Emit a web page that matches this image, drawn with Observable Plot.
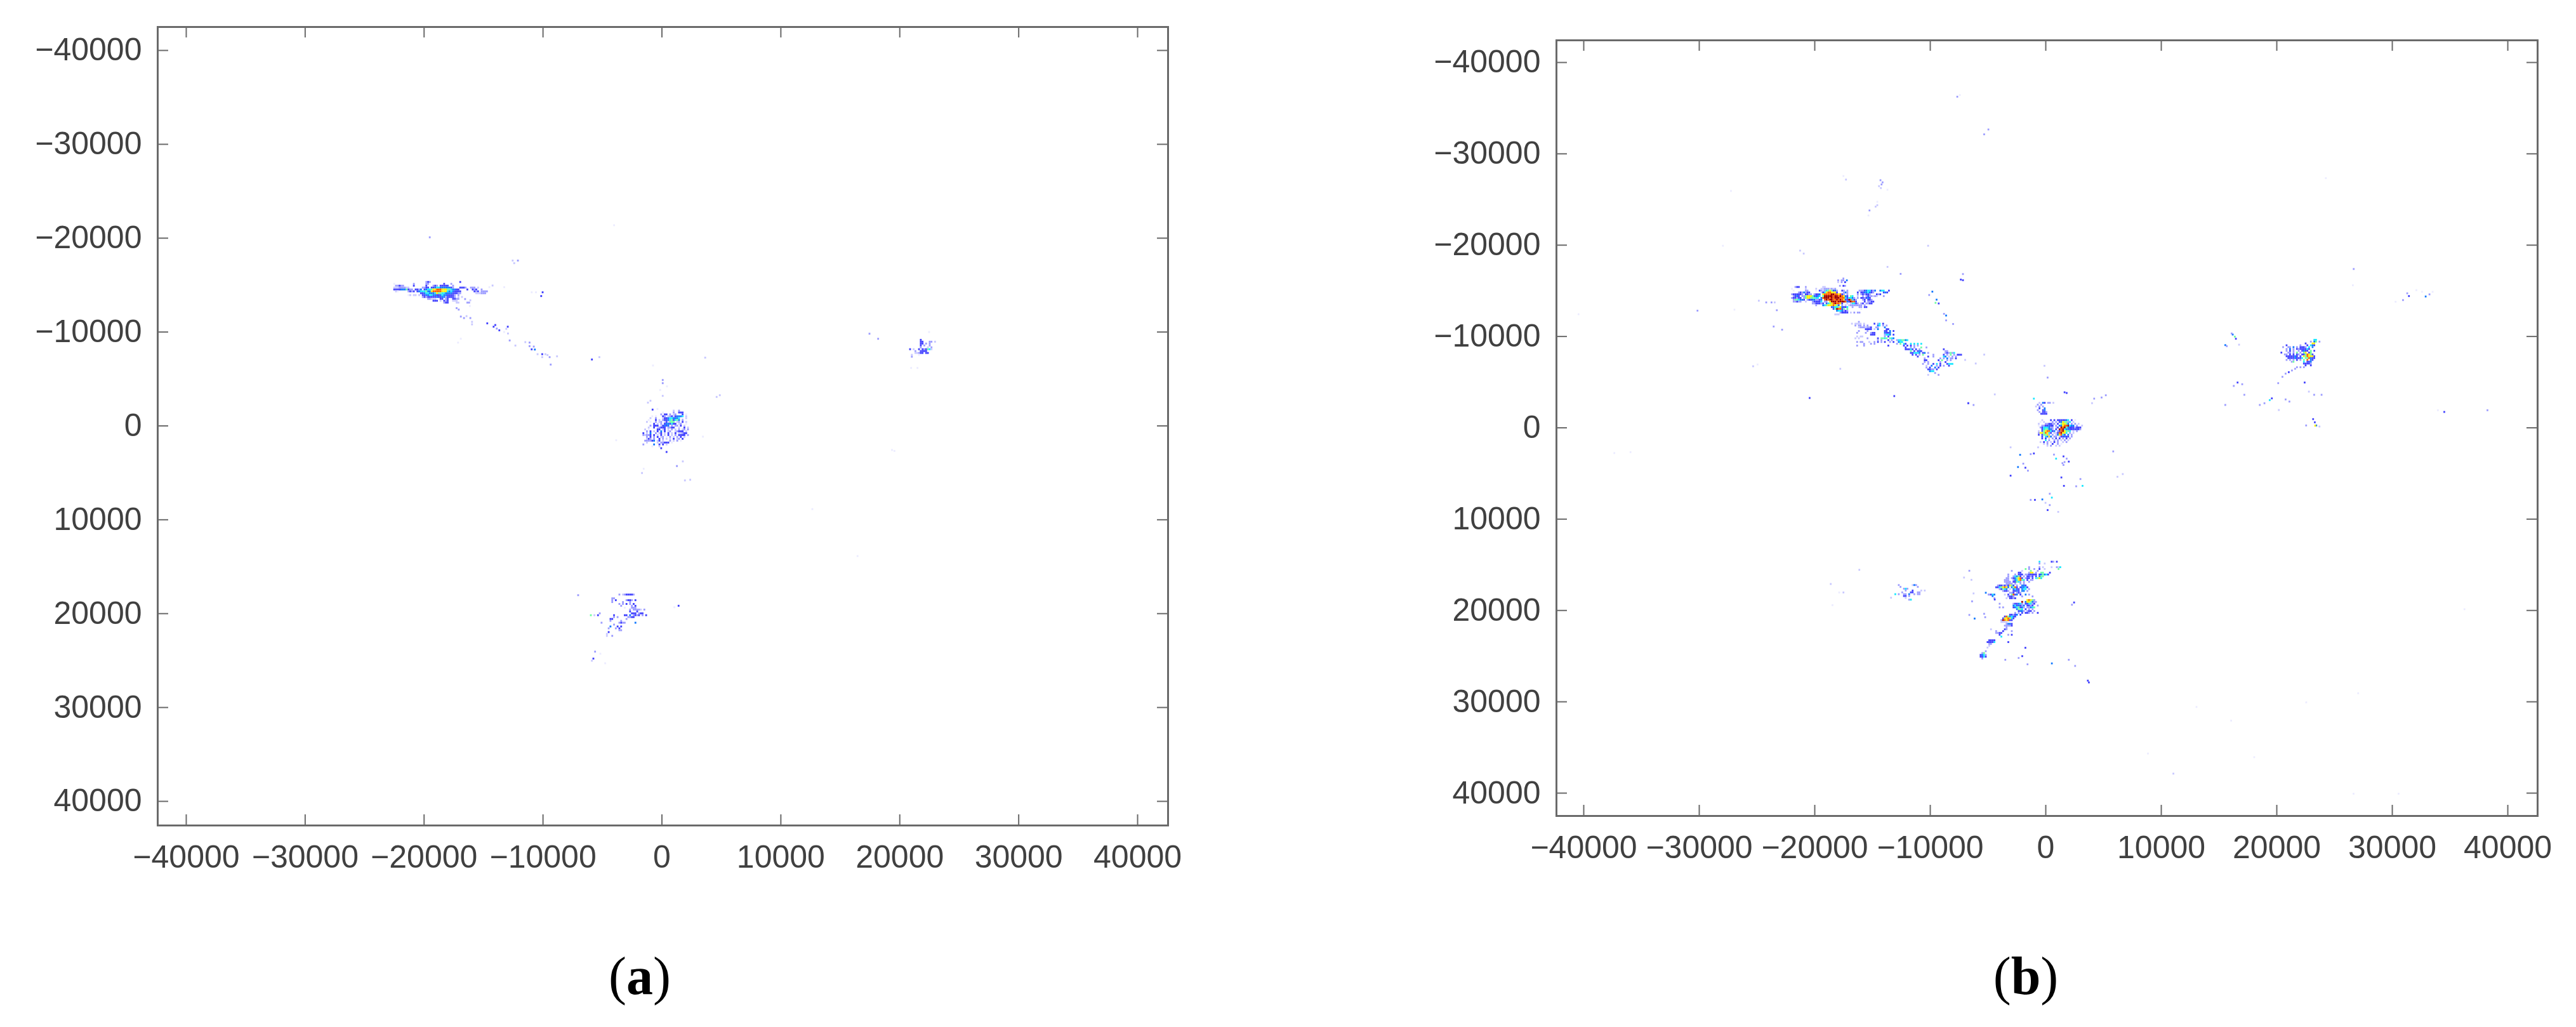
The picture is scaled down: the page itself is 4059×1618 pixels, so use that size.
<!DOCTYPE html>
<html>
<head>
<meta charset="utf-8">
<script src="https://cdn.jsdelivr.net/npm/d3@7"></script>
<script src="https://cdn.jsdelivr.net/npm/@observablehq/plot@0.6"></script>
<style>
html,body{margin:0;padding:0;background:#fff;}
#page{position:relative;width:4059px;height:1618px;background:#fff;overflow:hidden;}
.panel{position:absolute;top:0;}
.cap{position:absolute;top:1488px;font-family:"Liberation Serif",serif;font-size:84px;line-height:100px;color:#000;transform:translateX(-50%);}
.cap b{font-weight:bold;}
svg g[aria-label="rect"]{filter:blur(0.6px);}
</style>
</head>
<body>
<div id="page"></div>
<script>
// Axis ticks shared by both histograms
const tickValues = [-40000,-30000,-20000,-10000,0,10000,20000,30000,40000];
const binX = 150, binY = 200;
// Density levels: 1 faintest … 10 darkest red
const levelColors = ["#ececff","#c8c8ff","#9c9cff","#4040ff","#1078ff","#18e8ff","#70ffa0","#ffef00","#ff6000","#a00000"];

// ----- Panel (a): rows of density levels (x0, y0 in data units)
const aWestOrigin = [-22560,-15400];
const aWestRows = [
"..................343................4",
"1..........3......33........4...3",
".33433.....4......4...343.44444..3",
"222333322.......3344.4456655555543...4443..333.2",
"44445557433.4435.45667889998887765544....4..434..3",
".21.....3434.4566675589999988865654444.......434.3333",
"...............44566555687766555544433........222333",
"........12.22.2.4455665544565544443.3",
"................3434444454455344443.2.2",
"...................33222..44.34..4433",
"......................444.2.434..222",
"............................344....22....33"];
const aCentreOrigin = [-1759,-1690];
const aCentreRows = [
"..................2..3",
"............1.....3..444",
"...........3.44.3.23...4.1",
"......1.1...43.234245556.2",
".....2..3...2445665556.1.2",
"....1...4.2.3445674675.3",
"...2.1..3.23.242777.23.4.2",
".......4.2.3.4554644.23..1",
".....3.444.24545.3.33.4.2.",
"....2..4.23444.3344..2..4.2",
"..2.1....44.24.2.3.2.3.23.3",
"...3.4.2.4.5.4.23..23444.2",
".4.2.5..3.24.2.4.2.4.22344",
".32334.4.2.4.2.4.2.3.4444.3",
"...3.4.3.4.23.1.3.2.3.4.2",
"...243.3..4.3.2.2.4.23.4",
"..333345.24.2...3.2.3.1",
"...2.....2.33444.1",
".3.....5..4.4.2",
"......1...2.....",
"...........4",
"",
"..............4"];
const aSouthOrigin = [-6026,17903];
const aSouthRows = [
"................3.2344443",
"",
"............33",
"............3.4.....3443.4",
"............3.....3...3",
"................3.3.4.3.4",
".................3.....3.4",
"...................1...333",
"......................3.33332.3",
"......................4...4",
".....3.................444.344",
"7.2.4........4.....44.5.3434.3.4",
".............3.3.....3344",
"...........44.......3",
"...........3.....3",
"......3.........3433.....5",
".............3",
"...........5...4.4",
"..........3...3.4",
"................33",
"..........4.....",
".........2.......",
".........2..3"];
const aNorthEastOrigin = [20818,-9235];
const aNorthEastRows = [
"......4",
"......44...33.2",
"......44.3.3",
"......4.3..3",
"......3...2.3",
"4.2..4.434762",
"...3..4444",
"...22344.44",
".2...1",
".3"];
// single cells (x, y, level) in data units
const aScatterX = [-17314,-17136,-16958,-16692,-16478,-16158,-16016,-16016,-14736,-14203,-14060,-13936,-13722,-13011,-13136,-13314,-12993,-12851,-12371,-11535,-11180,-11180,-10824,-11002,-10735,-10504,-10113,-9847,-9669,-9491,-10113,-8869,-5935,-9402,-19572,-4070,-12600,-12160,-12470,-10080,-10200,-10640,-11000,-14290,-13310,-14560,-16600,-16160,-16200,-16960,-17190,-5310,
 -5670,-5813,-5937,-5226,-4817,1353,997,-7093,19,19,375,-194,19,-1225,-1012,-834,-425,4820,4553,3397,1708,1210,-1581,-1723,1886,2331,-3892,
 22418,17404,18133,20907,21440,3590,19300,19500,16400,12600,-800];
const aScatterY = [-12614,-12457,-11713,-11556,-11758,-11556,-11150,-10880,-10993,-10632,-10813,-10430,-10250,-10632,-10407,-10070,-9912,-9169,-8628,-8989,-8943,-8561,-8516,-8223,-8200,-7705,-7705,-7705,-7615,-7390,-7390,-7480,-7142,-6601,-20158,-21444,-17680,-17680,-17400,-14300,-13900,-14300,-14300,-15020,-14850,-14850,-13580,-13450,-12840,-9350,-8940,-7390,
 23983,24726,24951,24208,25222,19097,19254,17970,-4955,-4617,-4279,-3897,-3266,-2545,-2748,-1802,-1870,-3334,-3153,1080,3715,4211,4503,4954,5742,5674,1463,
 -10068,-9888,-9347,-6240,-6240,-7340,2500,2600,13800,8800,-6500];
const aScatterV = [3,3,3,3,2,3,2,2,4,4,4,3,4,4,2,1,2,3,2,2,3,3,3,4,5,2,4,2,2,3,2,2,4,3,3,1,2,3,2,4,4,1,1,2,1,1,3,2,1,1,1,2,
 3,4,2,1,1,4,1,3,3,3,1,1,2,2,2,4,1,2,2,1,2,3,1,2,2,2,1,
 1,3,3,1,1,2,1,1,1,1,1];

// ----- Panel (b)
const bWestOrigin = [-22324,-15485];
const bWestRows = [
"....344...3.........22",
"..1.......2.....2..223332323",
"...1......33....1.43236787453..43.3......3334566435..566..4",
"......3435344......2468998884...353.....4.44556543.....454",
"..3444443.4433.3445.89999AA998943.3.....3.343443...434",
"...3454.33788875456.7AAAAA9AA9A9854.76..2..3.3433232...3",
"..344344.378877766.59AAA9A9AAA999646653.3.443454",
"...3776554.344553345.9A9AA99A9A9844A9643...34.443",
"...33433..2...344446.33.8AAA9AAAA954A994....4.3344",
"..............3344434.46789A9984..2.26643.34.3344",
"................3...5678889874.3.2.23333333.3",
".........................4566785446..3...33.44",
"..........................47A9947.7.......1",
"............................5665343",
"..............................34444.2.3.33",
"...........................222"];
const bSpurOrigin = [-18019,-16412];
const bSpurRows = ["...3","3.33.5","2.3.4","..",".3.43"];
const bStreakOrigin = [-16828,-11665];
const bStreakRows = [
"....3",
"2.2222.2.....4.36.4",
"..3.33.3.3.....56.3.3",
"....23332334..33...5",
"........4444.2.5....44",
"....3....3.........44.5.4",
"...3....3..344.....5445",
"...........444.....3665.4",
"...2.22............3.4",
"..2.2....3.....4.7767.765",
"...............3.3...4.3..3667756",
"...3.33...2..3.4.3.4..3.4..566",
".......3...3.3............3.7.64..6.6.6.6",
"...3...3.............4........4.4.4.3.3",
"...............................4..3.3...7..3",
"...............................44464.4.3.............4",
"..................................7.4.454.............33",
"..................................446665.45.3.........343736",
"...................................4.4.3.7.....3.....4.3.7.3.444",
"......................................4.....4..3.....65.2.3.3",
"..........................................3........3.3.5.33.4",
"..........................................44......4.7..3.3",
"..........................................3.3......3..4",
".........................................3..3..4.6.4...4666",
"...........................................2..5..3.4.3..4",
"...........................................3.4..5.4",
"............................................4433.4",
".............................................566",
"................................................3",
"............................................2.....3"];
const bCentreOrigin = [-803,-903];
const bCentreRows = [
"...2....4.4.4444456.4.1",
"..1.2....3.3.4587736.2",
".2...334433.4.78875.3.3.2",
".1.3344544.3.55899A655.3..2",
"..34666533.24.A9A754443444",
"...4677553.4.A9A6554444443",
".2.47899645.349A8776.2.3",
".38879864.2249A886.3.2",
".4.47783.3.258964.5.3",
"...4.6585.33.244544.3",
"...4.4.2.3.4.4.3.4.3",
".....6.3..3.3.2.3.2",
"..2.4.3.2.4.3..2.3",
"....2.3..4..3.1",
"......2.3..2.2"];
const bCentreSpurOrigin = [-891,-2800];
const bCentreSpurRows = [
"..2.54.33.2",
".3.3....",
"2.3.3",
"..4..5",
".3..45",
"..3.443",
"...4444"];
const bSouthOrigin = [-5841,14597];
const bSouthRows = [
"...................................6......43.4",
"...................................3..2",
"",
".............................3.....3.2....2..326",
"...........................7.3..3..4..2.......7",
"...................3.....2....7...3",
".......................44....388.3..77...4",
".................3...3.444.3344444.457564",
".................3..36574.3.4434.4.577",
"................33.3457894.344.4.6786",
"...............333..3568976.4.33",
"...............3333.44763.3..3",
"................3333.3..3.3",
"...........3443434874.3..554",
"..........44678985.5794.45564",
"............34765.2.5644.566.3",
"..............3443..4454.55.3",
"....5.............334.343",
"......3465.....2.4.7945.4..5.3",
".................3443....3.....3",
".........3......2.4434",
"............................89873",
".........................A.5887533",
"............3.......344563.446634",
"....................5645435.4434..3",
"............3.3.....4567453.33567",
"......................5776.4.3.3",
".......................4553.344.3",
".....................3.3.4.443.3..4",
"..................44345.4",
"...............4975654",
"..............4889864",
".............3A98944",
".............2222",
"................3554",
"...............33334",
"................3",
".......2.......43",
"..........3...4....3",
"..........3344",
"............4....3.4",
".............6",
"",
"......4444",
".....44446.......4",
"......33",
"......2",
".....2",
"",
"....3",
"..37",
".4563",
".4464",
"..3"];
const bFarSouthWestOrigin = [-13075,17153];
const bFarSouthWestRows = [
"..3.......253",
"...3.........3",
".....363",
"......3...4....2.2",
"....3....44..33",
"6.3..33.5..3.33",
".....44.3",
"......2",
"........36"];
const bEastOrigin = [20350,-9700];
const bEastRows = [
"...................66",
".................3.57.3",
"..............4...88",
"...4.......3...4.654",
".3..33.5.3.4443.6.5",
"...3.5.3.43444464",
"...3.4.3..3.4544.7.4",
"4...33.3.7.3.78.47",
"..33.4.4.43.4479874",
"...4444454.4.8798884",
"....444454446.779544",
"...3.3.3.4.3.7.9.54",
"......37.....6.445",
".............44443",
"..............4..4",
".........3.3.3"];
const bScatterX = [
 -30200,-24889,-24248,-23790,-23515,-23331,-23606,-22874,-21316,-21005,-7401,-7218,-7218,-10233,-9866,-10141,-9500,-9592,-9317,-8859,-8675,-8675,-8071,-17836,-20492,-13164,-4462,-6752,-25383,-12614,-13750,-6112,-7028,-5377,
 16136,16319,16044,16411,15495,15623,16686,19525,19342,18884,18481,20716,21046,23244,23372,23281,23098,23647,22493,23830,22365,16557,16228,16960,15495,17144,20075,20441,20716,20991,21266,21540,20130,23189,22731,
 -1078,-6757,-6299,-3093,-3093,-2269,-2452,-1811,-1591,-1994,-1353,-1078,662,846,1487,1762,1945,1395,1579,1487,1304,1524,2586,3136,2953,-345,-1353,-986,479,-70,296,113,1029,296,113,-162,1579,1762,4785,4143,5151,3960,6617,6158,5792,-711,
 -6665,-7123,-6482,-6299,-6427,-4997,-4650,-4467,-6207,-6665,-5291,-5383,2403,2220,-1811,-2085,-2397,-3551,-1628,479,1945,2495,3594,3686,
 -16190,-18663,-17930,-17564,-18516,-13442,
 -7708,-7488,-5015,-5381,-14358,-14175,-14266,-14486,-14321,-13753,-14633,-14633,-14779,-15310,-15402,-17344,-17564,
 31247,31394,32035,32529,32841,33171,33445,30881,30239,34453,33903,38190,26612,26539,
 -40500,-37400,-36000,-27300,-25000,-28000,-27000,24200,8800,11000,16000,13000,26600,30500,36200,18000,22500,27000];
const bScatterY = [
 -12893,-13981,-13795,-13795,-13795,-12939,-11157,-10809,-19467,-19143,-16296,-16226,-16900,-20000,-14976,-14606,-14097,-13749,-13680,-12545,-12360,-11828,-11434,-6527,-3332,-3540,-3725,-2753,-6804,-16921,-17685,-7105,-7499,-8078,
 -10278,-10046,-10393,-9815,-9120,-9005,-9167,-3287,-3101,-2754,-2569,-3171,-2939,-670,-323,-300,-1018,-207,-323,-3680,-5023,-5023,-4652,-4838,-2569,-3680,-4953,-5648,-5995,-6157,-6342,-6527,-2013,-3680,-4027,
 -3259,-2763,-2564,5173,2073,2891,4231,4305,4627,3859,2817,2743,2867,3313,3065,3313,3635,3809,3685,4007,5371,6289,6339,6289,5545,7777,7827,7827,7579,8149,8397,8943,9141,7157,-5565,-6855,-3954,-3879,-3383,-3259,-3631,-2763,5000,5297,2519,2073,
 15589,16333,16581,18069,18937,18193,18367,18738,20822,20425,20673,20301,19061,19309,24021,24938,25137,25336,25831,25732,25336,26005,27617,27815,
 15486,17037,17963,17963,19352,18542,
 -36319,-36504,-32731,-32198,-27175,-26943,-26712,-26527,-26318,-26133,-24813,-24443,-24281,-23864,-23309,-27244,-27638,
 -14791,-14490,-15138,-14953,-14444,-14675,-14953,-14050,-13865,-1804,-1989,-1989,-17453,-15671,
 -12500,2700,2600,-26000,-7000,-20000,-13000,-27400,35600,37800,32000,30500,40000,40000,19800,36000,30000,29000];
const bScatterV = [
 3,2,3,3,2,3,3,3,2,2,4,4,3,2,5,3,5,7,4,3,5,3,3,2,4,4,2,3,2,3,2,2,2,2,
 5,7,3,4,5,3,2,4,6,3,3,3,3,4,5,8,4,2,3,3,4,4,3,3,3,3,3,3,3,4,3,3,2,3,2,
 6,4,3,4,2,5,5,4,3,3,3,4,3,6,4,3,4,3,3,3,4,4,3,6,3,5,3,4,6,2,3,4,2,3,3,2,4,4,3,3,3,2,2,2,3,2,
 3,2,2,2,3,3,5,4,5,3,3,3,4,3,4,4,3,3,3,5,3,3,4,4,
 2,2,1,2,1,2,
 3,1,3,3,3,3,3,2,2,1,1,2,2,3,1,2,1,
 3,4,1,1,5,3,1,3,1,4,1,3,3,1,
 1,1,1,1,1,1,1,1,1,2,1,1,1,1,1,1,1,1];

// Build cell tables from the level rows and the single-cell lists
function rowsToCells(origin, rows){
  const cells = [];
  rows.forEach((row,i)=>{
    [...row].forEach((ch,j)=>{
      if(ch===".") return;
      const v = ch==="A" ? 10 : +ch;
      cells.push({x:origin[0]+j*binX, y:origin[1]+i*binY, v});
    });
  });
  return cells;
}
function listToCells(xs,ys,vs){
  return xs.map((x,i)=>({x, y:ys[i], v:vs[i]}));
}
const aCells = [
  ...rowsToCells(aWestOrigin,aWestRows),
  ...rowsToCells(aCentreOrigin,aCentreRows),
  ...rowsToCells(aSouthOrigin,aSouthRows),
  ...rowsToCells(aNorthEastOrigin,aNorthEastRows),
  ...listToCells(aScatterX,aScatterY,aScatterV)];
const bCells = [
  ...rowsToCells(bWestOrigin,bWestRows),
  ...rowsToCells(bSpurOrigin,bSpurRows),
  ...rowsToCells(bStreakOrigin,bStreakRows),
  ...rowsToCells(bCentreOrigin,bCentreRows),
  ...rowsToCells(bCentreSpurOrigin,bCentreSpurRows),
  ...rowsToCells(bSouthOrigin,bSouthRows),
  ...rowsToCells(bFarSouthWestOrigin,bFarSouthWestRows),
  ...rowsToCells(bEastOrigin,bEastRows),
  ...listToCells(bScatterX,bScatterY,bScatterV)];

const fmt = d => String(d).replace("-","\u2212");
const axisColor = "#6a6a6a", labelColor = "#404040";

function panel(cells, o){
  const [x0,x1] = o.xDomain, [y0,y1] = o.yDomain;
  const tx = o.tickPx / o.kx, ty = o.tickPx / o.ky;
  return Plot.plot({
    width:o.width, height:o.height,
    marginLeft:o.ml, marginRight:o.mr, marginTop:o.mt, marginBottom:o.mb,
    x:{domain:o.xDomain, axis:null},
    y:{domain:o.yDomain, reverse:true, axis:null},
    color:{type:"ordinal", domain:d3.range(1,11), range:levelColors},
    style:{background:"transparent", fontFamily:"'Liberation Sans',Arial,sans-serif", overflow:"visible"},
    marks:[
      Plot.rect(cells,{
        x1:d=>d.x, x2:d=>d.x+binX, y1:d=>d.y, y2:d=>d.y+binY, fill:d=>d.v
      }),
      Plot.ruleX(tickValues,{y1:y1,y2:y1-ty,stroke:axisColor,strokeWidth:2}),
      Plot.ruleX(tickValues,{y1:y0,y2:y0+ty,stroke:axisColor,strokeWidth:2}),
      Plot.ruleY(tickValues,{x1:x0,x2:x0+tx,stroke:axisColor,strokeWidth:2}),
      Plot.ruleY(tickValues,{x1:x1,x2:x1-tx,stroke:axisColor,strokeWidth:2}),
      Plot.frame({stroke:axisColor,strokeWidth:3}),
      Plot.axisX(tickValues,{anchor:"bottom",tickSize:0,tickPadding:31,tickFormat:fmt,fontSize:50,fill:labelColor,label:null}),
      Plot.axisY(tickValues,{anchor:"left",tickSize:0,tickPadding:25,tickFormat:fmt,fontSize:50,fill:labelColor,label:null})
    ]
  });
}

const page = document.getElementById("page");
function mount(svg,left,width){
  const d = document.createElement("div");
  d.className="panel"; d.style.left=left+"px"; d.style.width=width+"px";
  d.appendChild(svg); page.appendChild(d);
}
mount(panel(aCells,{
  width:1900,height:1400,ml:248,mr:60,mt:42,mb:100,
  xDomain:[-42400,42560],yDomain:[-42500,42570],kx:0.01875,ky:0.01479,tickPx:17
}),0,1900);
mount(panel(bCells,{
  width:1659,height:1400,ml:52,mr:61,mt:63,mb:115,
  xDomain:[-42363,42580],yDomain:[-42430,42500],kx:0.0182,ky:0.0144,tickPx:17
}),2400,1659);

[["a",1008],["b",3192]].forEach(([t,x])=>{
  const c=document.createElement("div");
  c.className="cap"; c.style.left=x+"px";
  c.append("(");
  const b=document.createElement("b"); b.textContent=t; c.append(b);
  c.append(")");
  page.appendChild(c);
});
</script>
</body>
</html>
